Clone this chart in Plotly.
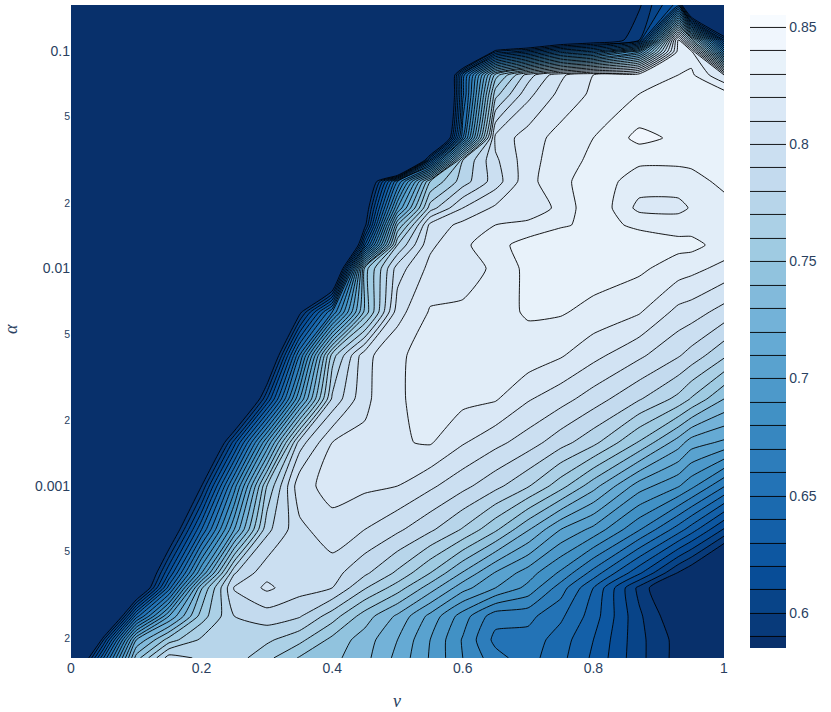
import plotly.graph_objects as go

# nu grid, alpha grid (log spaced by eye), z rows listed bottom to top
nu = [0, .05, .1, .15, .2, .25, .3, .35, .4, .45, .5, .55, .6, .65, .7, .75, .8, .87, .93, .95, 1]
alpha = [.000162, .000196, .000252, .00034, .000398, .000631, .001, .001585, .002512, .003981, .00631,
         .01, .01282, .01585, .01897, .02512, .0314, .03981, .0634, .0776, .099, .1122, .1626]

r01 = [.53, .64, .745, .785, .778, .775, .763, .749, .743, .733, .717, .699, .68, .664, .654, .643, .628, .603, .586, .582, .58]
r02 = [.45, .60, .72, .755, .772, .775, .772, .763, .747, .735, .72, .70, .679, .657, .656, .645, .63, .603, .586, .58, .578]
r03 = [.42, .517, .645, .71, .755, .78, .785, .781, .765, .745, .728, .707, .685, .664, .663, .652, .635, .602, .58, .578, .565]
r04 = [.42, .47, .55, .645, .739, .791, .802, .794, .79, .771, .755, .735, .714, .70, .687, .665, .64, .597, .57, .565, .55]
r05 = [.42, .44, .54, .62, .70, .779, .797, .796, .794, .782, .768, .75, .729, .709, .695, .678, .656, .622, .589, .58, .55]
r06 = [.42, .42, .49, .565, .64, .71, .777, .797, .807, .80, .792, .782, .769, .752, .731, .71, .697, .671, .645, .635, .609]
r07 = [.42, .42, .42, .50, .59, .675, .76, .807, .813, .812, .81, .802, .793, .783, .771, .754, .734, .705, .691, .683, .661]
r08 = [.42, .42, .42, .45, .53, .615, .70, .785, .81, .812, .819, .821, .811, .803, .795, .784, .773, .749, .725, .715, .708]
r09 = [.42, .42, .42, .42, .45, .52, .61, .70, .782, .808, .818, .826, .823, .821, .811, .804, .795, .781, .767, .759, .74]
r10 = [.42, .42, .42, .42, .42, .45, .55, .66, .765, .807, .818, .825, .827, .827, .826, .821, .813, .802, .791, .786, .772]
r11 = [.42, .42, .42, .42, .42, .42, .50, .585, .66, .743, .806, .821, .822, .827, .831, .831, .827, .821, .807, .805, .796]
r12 = [.42, .42, .42, .42, .42, .42, .42, .44, .515, .745, .795, .813, .815, .822, .833, .834, .835, .832, .825, .823, .817]
r13 = [.42, .42, .42, .42, .42, .42, .42, .42, .43, .63, .77, .808, .818, .826, .835, .836, .836, .833, .833, .833, .826]
r14 = [.42, .42, .42, .42, .42, .42, .42, .42, .45, .585, .74, .803, .813, .82, .822, .829, .832, .829, .826, .826, .825]
r15 = [.42, .42, .42, .42, .42, .42, .42, .42, .44, .575, .70, .775, .80, .812, .815, .822, .839, .817, .817, .821, .827]
r16 = [.42, .42, .42, .42, .42, .42, .42, .42, .42, .55, .66, .75, .775, .795, .817, .827, .836, .825, .825, .827, .832]
r17 = [.42, .42, .42, .42, .42, .42, .42, .42, .42, .42, .42, .625, .77, .798, .816, .826, .832, .832, .832, .832, .835]
r18 = [.42, .42, .42, .42, .42, .42, .42, .42, .42, .42, .42, .48, .66, .803, .815, .824, .83, .843, .838, .838, .835]
r19 = [.42, .42, .42, .42, .42, .42, .42, .42, .42, .42, .42, .45, .637, .766, .797, .813, .822, .83, .835, .835, .835]
r20 = [.42, .42, .42, .42, .42, .42, .42, .42, .42, .42, .42, .45, .635, .745, .785, .808, .82, .826, .83, .832, .81]
r21 = [.42, .42, .42, .42, .42, .42, .42, .42, .42, .42, .42, .42, .48, .60, .62, .645, .655, .70, .825, .825, .67]
r22 = [.42, .42, .42, .42, .42, .42, .42, .42, .42, .42, .42, .42, .42, .52, .53, .556, .57, .60, .825, .76, .61]
r23 = [.42, .42, .42, .42, .42, .42, .42, .42, .42, .42, .42, .42, .42, .42, .42, .42, .42, .588, .625, .50, .42]
rows = [r01, r02, r03, r04, r05, r06, r07, r08, r09, r10, r11, r12, r13, r14, r15, r16, r17, r18, r19, r20, r21, r22, r23]

fig = go.Figure(go.Contour(x=nu, y=alpha, z=rows, colorscale='Blues', reversescale=True,
                           zauto=False, zmin=.585, zmax=.855, autocontour=False,
                           contours=dict(start=.59, end=.85, size=.01, coloring='fill'),
                           line=dict(color='black', width=.9, smoothing=.5),
                           colorbar=dict(thickness=36, x=1.025, xpad=10, tickvals=[.6, .65, .7, .75, .8, .85],
                                         ticktext=['0.6', '0.65', '0.7', '0.75', '0.8', '0.85'])))

fig.update_layout(template='plotly', width=831, height=712, autosize=False,
                  font=dict(family='Liberation Sans', size=14),
                  margin=dict(l=71, r=107, t=5, b=54))
fig.update_xaxes(range=[0, 1], tickvals=[0, .2, .4, .6, .8, 1], ticktext=['0', '0.2', '0.4', '0.6', '0.8', '1'],
                 showgrid=False, zeroline=False, automargin=False)
fig.update_yaxes(type='log', range=[-3.791, -.7885], dtick='D2', showgrid=False, zeroline=False, automargin=False)

# axis titles sit further out than the margins allow, so they are annotations
title_font = dict(family='Liberation Serif', size=18, color='#2a3f5f')
fig.add_annotation(text='<i>ν</i>', xref='paper', yref='paper', x=.499, y=-.0658, xanchor='center', yanchor='middle',
                   showarrow=False, font=title_font)
fig.add_annotation(text='<i>α</i>', xref='paper', yref='paper', x=-.0919, y=.504, xanchor='center', yanchor='middle',
                   showarrow=False, textangle=-90, font=title_font)

fig.write_html('out.html', config=dict(displayModeBar=False), post_script="document.body.style.margin='0';")
